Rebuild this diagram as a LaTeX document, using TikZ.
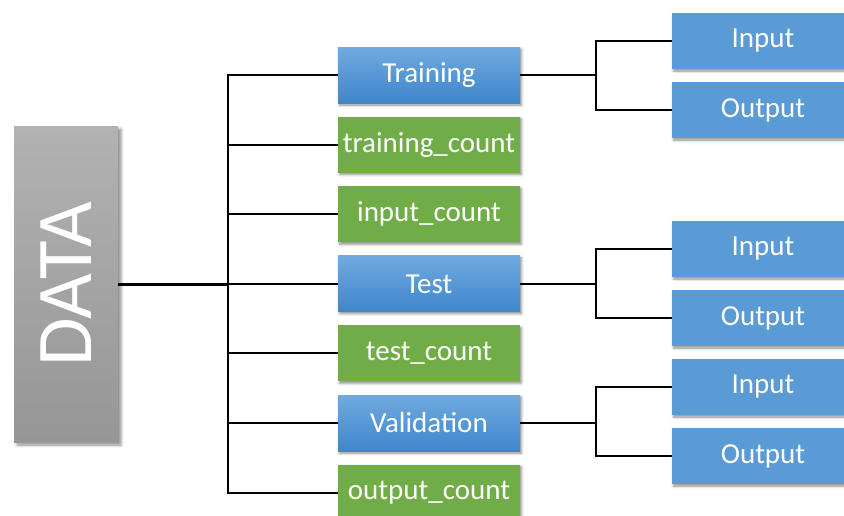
\documentclass[tikz,border=0pt]{standalone}
\usepackage{fontspec}
\setmainfont{Carlito}
\usepackage{tikz}
\usetikzlibrary{positioning, shadows.blur}

\definecolor{setblueT}{RGB}{112,170,224}
\definecolor{setblueB}{RGB}{62,134,204}
\definecolor{countgreen}{RGB}{112,173,71}
\definecolor{partblue}{RGB}{91,155,213}
\definecolor{datagrayT}{RGB}{178,178,178}
\definecolor{datagrayB}{RGB}{150,150,150}

\begin{document}
\begin{tikzpicture}[x=1pt, y=-1pt,
    box/.style={minimum width=182pt, minimum height=56pt, inner sep=0pt, text=white,
        font=\fontsize{29}{34}\selectfont,
        blur shadow={shadow xshift=1.5pt, shadow yshift=-2pt, shadow blur radius=2.5pt, shadow opacity=45}},
    setbox/.style={box, top color=setblueT, bottom color=setblueB},
    countbox/.style={box, fill=countgreen},
    partbox/.style={box, fill=partblue},
    databox/.style={minimum width=104pt, minimum height=316pt, inner sep=0pt, text=white,
        top color=datagrayT, bottom color=datagrayB, font=\fontsize{79}{84}\selectfont,
        blur shadow={shadow xshift=3pt, shadow yshift=-3pt, shadow blur radius=3pt, shadow opacity=45}},
    line/.style={line width=2pt},
    trunk/.style={line width=3pt}]
        \useasboundingbox (0,0) rectangle (844,515);
        \clip (0,0) rectangle (844,515);

        % 左のブロック
        \node[databox] (data) at (66,284) {\rotatebox{90}{DATA}};

        % 中央の列
        \node[setbox] (training) at (429,75) {Training};
        \node[countbox, below=13.2pt of training] (trainingcount) {training\_count};
        \node[countbox, below=13.2pt of trainingcount] (inputcount) {input\_count};
        \node[setbox, below=13.2pt of inputcount] (test) {Test};
        \node[countbox, below=13.2pt of test] (testcount) {test\_count};
        \node[setbox, below=13.2pt of testcount] (validation) {Validation};
        \node[countbox, below=13.2pt of validation] (outputcount) {output\_count};

        % 右の列
        \node[partbox] (trainin) at (763,41) {Input};
        \node[partbox] (trainout) at (763,110) {Output};
        \node[partbox] (testin) at (763,249) {Input};
        \node[partbox] (testout) at (763,318) {Output};
        \node[partbox] (valin) at (763,387) {Input};
        \node[partbox] (valout) at (763,456) {Output};

        % 幹線の描画
        \coordinate (hub) at (228,284);
        \draw[trunk] (data.east) -- (hub);
        \foreach \n in {training,trainingcount,inputcount,test,testcount,validation,outputcount} {
            \draw[line] (hub) |- (\n.west);
        }

        % 枝分かれの描画
        \foreach \s/\a/\b in {training/trainin/trainout, test/testin/testout, validation/valin/valout} {
            \draw[line] (\a.west) -| ([xshift=76pt]\s.east) -- (\s.east);
            \draw[line] (\b.west) -| ([xshift=76pt]\s.east);
        }
\end{tikzpicture}
\end{document}
